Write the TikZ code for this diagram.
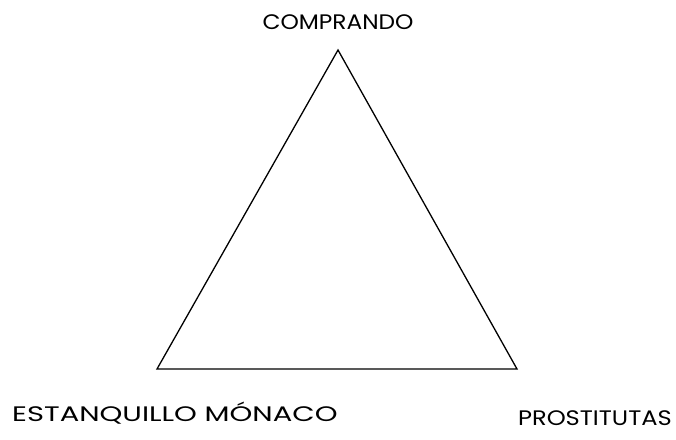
\documentclass[tikz,border=0pt]{standalone}
\usepackage{fontspec}
\setmainfont{Poppins}
\begin{document}
\begin{tikzpicture}[x=1pt, y=-1pt]
      \useasboundingbox (0,0) rectangle (676,439);
      \tikzset{label text/.style={inner sep=0pt, font=\fontsize{21}{24}\selectfont}}
      % Corners
      \coordinate (top) at (338, 50);
      \coordinate (left) at (157, 369);
      \coordinate (right) at (517, 369);

      % Labels
      \node[label text, anchor=base] at (338, 29) (comprando) {\scalebox{1.11}[1]{COMPRANDO}};
      \node[label text, anchor=base west] at (12, 421) (estanquillo) {\scalebox{1.38}[1]{ESTANQUILLO MÓNACO}};
      \node[label text, anchor=base east] at (672, 425) (prostitutas) {\scalebox{1.15}[1]{PROSTITUTAS}};

      \draw[line width=1.3pt, line join=miter] (top) -- (left) -- (right) -- cycle;
    \end{tikzpicture}
\end{document}
